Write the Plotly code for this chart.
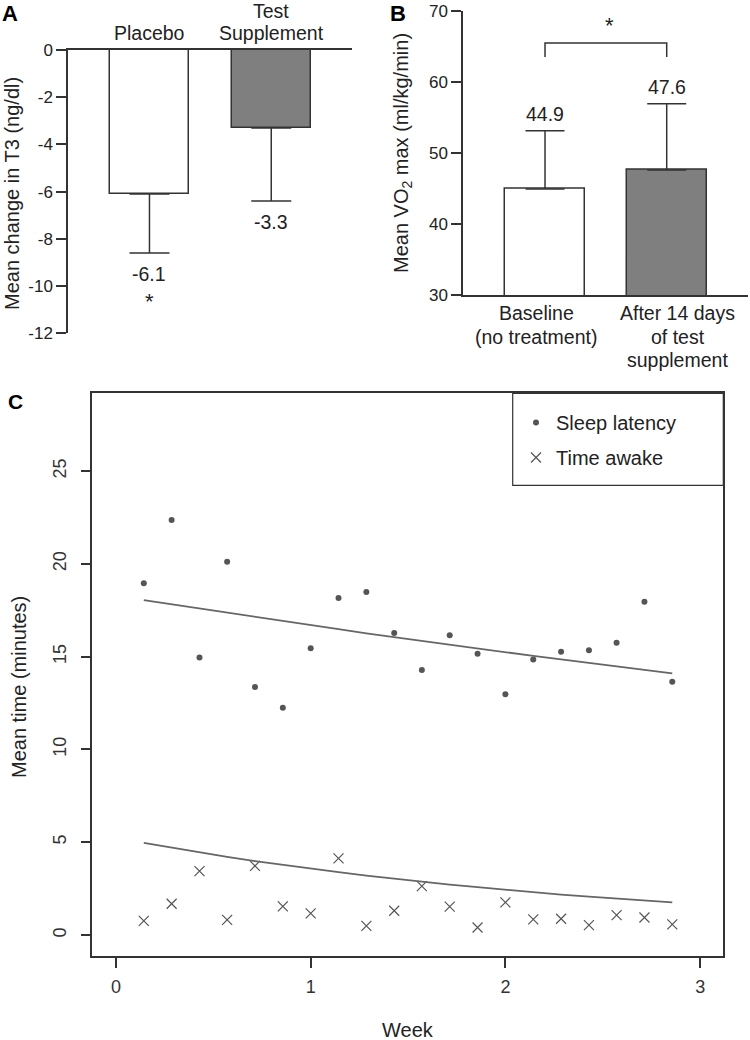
import plotly.graph_objects as go

# ---------------- data ----------------
# Panel A: mean change in T3
a_groups = ["Placebo", "Test<br>Supplement"]
a_means = [-6.1, -3.3]
a_sd = [2.5, 3.1]
a_value_labels = ["-6.1", "-3.3"]
a_sig = ["*", ""]
a_colors = ["white", "#7f7f7f"]
a_ticks = [0, -2, -4, -6, -8, -10, -12]

# Panel B: VO2 max
b_groups = ["Baseline<br>(no treatment)", "After 14 days<br>of test<br>supplement"]
b_means = [44.9, 47.6]
b_sd = [8.2, 9.3]
b_value_labels = ["44.9", "47.6"]
b_colors = ["white", "#7f7f7f"]
b_ticks = [30, 40, 50, 60, 70]

# Panel C: sleep over weeks
weeks = [0.143, 0.286, 0.429, 0.571, 0.714, 0.857, 1.0, 1.143, 1.286, 1.429,
         1.571, 1.714, 1.857, 2.0, 2.143, 2.286, 2.429, 2.571, 2.714, 2.857]
sleep_latency = [18.95, 22.36, 14.96, 20.11, 13.36, 12.25, 15.45, 18.16, 18.48, 16.27,
                 14.28, 16.15, 15.16, 12.98, 14.85, 15.27, 15.34, 15.75, 17.96, 13.65]
time_awake = [0.77, 1.69, 3.45, 0.82, 3.73, 1.55, 1.17, 4.13, 0.50, 1.31,
              2.64, 1.53, 0.41, 1.76, 0.85, 0.88, 0.54, 1.08, 0.95, 0.58]
sleep_trend = [18.05, 17.82, 17.59, 17.36, 17.13, 16.91, 16.69, 16.48, 16.26, 16.05,
               15.85, 15.64, 15.44, 15.24, 15.04, 14.85, 14.66, 14.47, 14.28, 14.10]
awake_trend = [4.97, 4.71, 4.46, 4.22, 3.99, 3.78, 3.58, 3.39, 3.21, 3.04,
               2.87, 2.72, 2.58, 2.44, 2.31, 2.18, 2.07, 1.96, 1.85, 1.76]
c_xticks = [0, 1, 2, 3]
c_yticks = [0, 5, 10, 15, 20, 25]

# ---------------- style ----------------
FONT = "Liberation Sans, Arial, sans-serif"
TXT = "#222222"
LINE = "#333333"
W, H = 750, 1040


def pxx(v):
    return v / W


def pyy(v):
    return 1 - v / H


ann = []


def add_text(text, x, y, xref, yref, size, color=TXT, **kw):
    d = dict(text=text, x=x, y=y, xref=xref, yref=yref, showarrow=False,
             xanchor="center", yanchor="middle",
             font=dict(family=FONT, size=size, color=color))
    d.update(kw)
    ann.append(d)


fig = go.Figure()

# ---- Panel A ----
fig.add_trace(go.Bar(
    x=[0, 1], y=a_means, width=0.649,
    marker=dict(color=a_colors, line=dict(color=LINE, width=1.5)),
    error_y=dict(type="data", symmetric=False, array=[0] * len(a_means), arrayminus=a_sd,
                 color=LINE, thickness=1.5, width=20),
    xaxis="x", yaxis="y", showlegend=False, hoverinfo="skip"))

for i, g in enumerate(a_groups):
    lines = g.split("<br>")
    n = len(lines)
    for j, line in enumerate(lines):
        add_text(line, i, 0, "x", "y", 19.5, yshift=17 + (n - 1 - j) * 22)
for i, (m, s) in enumerate(zip(a_means, a_sd)):
    add_text(a_value_labels[i], i, m - s, "x", "y", 19.5, yshift=-21)
    if a_sig[i]:
        add_text(a_sig[i], i, m - s, "x", "y", 22, yshift=-48)

# ---- Panel B ----
fig.add_trace(go.Bar(
    x=[0, 1], y=b_means, width=0.657,
    marker=dict(color=b_colors, line=dict(color=LINE, width=1.5)),
    error_y=dict(type="data", symmetric=False, array=b_sd, arrayminus=[0] * len(b_sd),
                 color=LINE, thickness=1.5, width=19.5),
    xaxis="x2", yaxis="y2", showlegend=False, hoverinfo="skip"))

b_shift = [-9, 11]
for i, g in enumerate(b_groups):
    lines = g.split("<br>")
    for j, line in enumerate(lines):
        add_text(line, i, 30, "x2", "y2", 19.5, yshift=-(18 + j * 23.5), xshift=b_shift[i])
for i, (m, s) in enumerate(zip(b_means, b_sd)):
    add_text(b_value_labels[i], i, m + s, "x2", "y2", 19.5, yshift=17)

# significance bracket
br_low, br_high = 63.5, 65.45
fig.add_shape(type="path", xref="x2", yref="y2",
              path=f"M 0,{br_low} L 0,{br_high} L 1,{br_high} L 1,{br_low}",
              line=dict(color=LINE, width=1.5))
add_text("*", 0.53, br_high, "x2", "y2", 22, yshift=18)

# ---- Panel C ----
fig.add_trace(go.Scatter(
    x=weeks, y=sleep_latency, mode="markers", name="Sleep latency",
    marker=dict(symbol="circle", size=6, color="#555555"),
    xaxis="x3", yaxis="y3", legendgroup="a"))
fig.add_trace(go.Scatter(
    x=weeks, y=time_awake, mode="markers", name="Time awake",
    marker=dict(symbol="x-thin-open", size=10, color="#555555", line=dict(width=1.2, color="#555555")),
    xaxis="x3", yaxis="y3", legendgroup="b"))
fig.add_trace(go.Scatter(
    x=weeks, y=sleep_trend, mode="lines", line=dict(color="#666666", width=1.8),
    xaxis="x3", yaxis="y3", showlegend=False, hoverinfo="skip"))
fig.add_trace(go.Scatter(
    x=weeks, y=awake_trend, mode="lines", line=dict(color="#666666", width=1.8),
    xaxis="x3", yaxis="y3", showlegend=False, hoverinfo="skip"))

# legend frame
fig.add_shape(type="rect", xref="paper", yref="paper",
              x0=pxx(512.7), x1=pxx(723.3), y0=pyy(485.3), y1=pyy(393.3),
              line=dict(color=LINE, width=1.2), fillcolor="white", layer="below")

# ---- panel letters and axis titles ----
add_text("<b>A</b>", pxx(10), pyy(14), "paper", "paper", 22, color="#000000")
add_text("<b>B</b>", pxx(398), pyy(14), "paper", "paper", 22, color="#000000")
add_text("<b>C</b>", pxx(15), pyy(402), "paper", "paper", 21, color="#000000")
add_text("Mean change in T3 (ng/dl)", pxx(12), pyy(194), "paper", "paper", 20, textangle=-90)
add_text("Mean VO<sub>2</sub> max (ml/kg/min)", pxx(402), pyy(153), "paper", "paper", 20, textangle=-90)
add_text("Mean time (minutes)", pxx(19), pyy(687), "paper", "paper", 20, textangle=-90)
add_text("Week", pxx(408), pyy(1030), "paper", "paper", 20)

tickfont = dict(family=FONT, size=17, color=TXT)

fig.update_layout(
    width=W, height=H,
    margin=dict(l=0, r=0, t=0, b=0, pad=0, autoexpand=False),
    paper_bgcolor="white", plot_bgcolor="rgba(0,0,0,0)",
    font=dict(family=FONT, color=TXT),
    annotations=ann,
    showlegend=True,
    legend=dict(x=pxx(516), xanchor="left", y=pyy(440), yanchor="middle",
                bgcolor="rgba(0,0,0,0)", borderwidth=0,
                font=dict(family=FONT, size=20, color=TXT), tracegroupgap=6),
    xaxis=dict(domain=[pxx(68), pxx(352)], range=[-0.669, 1.663], anchor="y", side="top",
               showline=True, linecolor=LINE, linewidth=1.5, showticklabels=False, ticks="",
               showgrid=False, zeroline=False, automargin=False),
    yaxis=dict(domain=[pyy(333.3), pyy(50)], range=[-12, 0], anchor="x",
               showline=True, linecolor=LINE, linewidth=1.5, ticks="outside", ticklen=10,
               tickwidth=1.5, tickcolor=LINE, tickvals=a_ticks, ticktext=[str(t) for t in a_ticks],
               tickfont=tickfont, showgrid=False, zeroline=False, automargin=False),
    xaxis2=dict(domain=[pxx(463), pxx(748)], range=[-0.674, 1.668], anchor="y2",
                showline=True, linecolor=LINE, linewidth=1.5, showticklabels=False, ticks="",
                showgrid=False, zeroline=False, automargin=False),
    yaxis2=dict(domain=[pyy(295), pyy(10.7)], range=[30, 70], anchor="x2",
                showline=True, linecolor=LINE, linewidth=1.5, ticks="outside", ticklen=10,
                tickwidth=1.5, tickcolor=LINE, tickvals=b_ticks, tickfont=tickfont,
                showgrid=False, zeroline=False, automargin=False),
    xaxis3=dict(domain=[pxx(92), pxx(723.3)], range=[-0.123, 3.119], anchor="y3",
                showline=True, mirror=True, linecolor=LINE, linewidth=1.5, ticks="outside",
                ticklen=11, tickwidth=1.5, tickcolor=LINE, tickvals=c_xticks,
                tickfont=dict(family=FONT, size=18, color="#333333"), ticklabelstandoff=3,
                showgrid=False, zeroline=False, automargin=False),
    yaxis3=dict(domain=[pyy(955.7), pyy(393.3)], range=[-1.11, 29.19], anchor="x3",
                showline=True, mirror=True, linecolor=LINE, linewidth=1.5, ticks="outside",
                ticklen=9, tickwidth=1.5, tickcolor=LINE, tickvals=c_yticks, tickangle=-90,
                tickfont=dict(family=FONT, size=18, color="#333333"), ticklabelstandoff=8,
                showgrid=False, zeroline=False, automargin=False),
    bargap=0,
)

fig.write_html("out.html", config={"displayModeBar": False},
               post_script="document.body.style.margin='0';document.body.style.overflow='hidden';"
                           "document.documentElement.style.overflow='hidden';")
